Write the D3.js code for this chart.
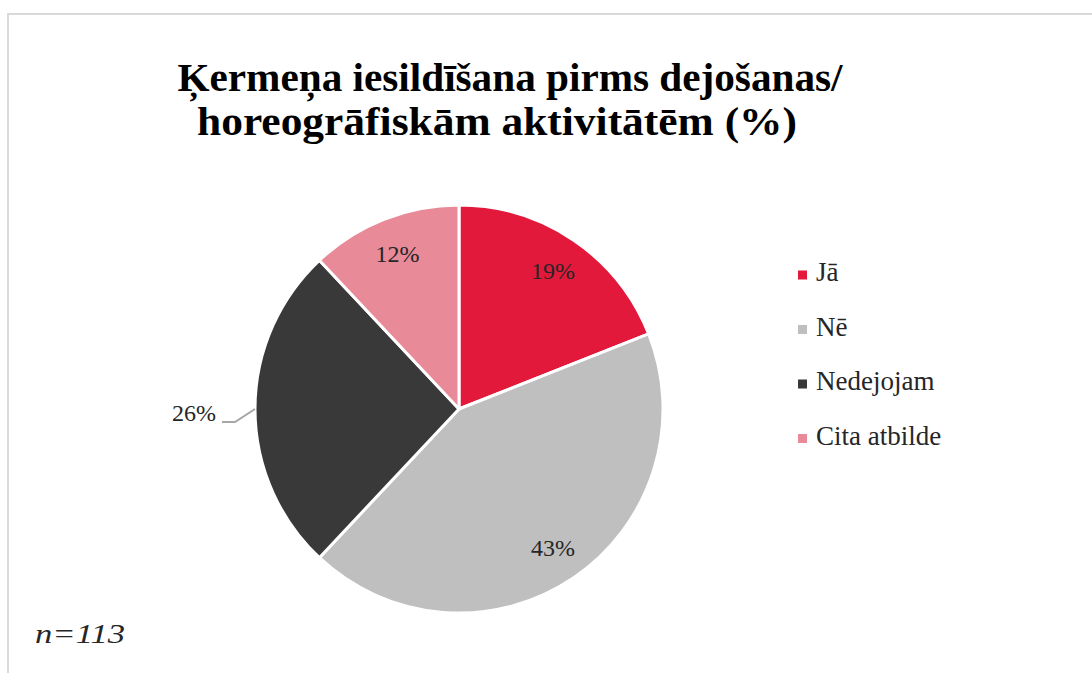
<!DOCTYPE html>
<html><head><meta charset="utf-8">
<script src="https://cdn.jsdelivr.net/npm/d3@7"></script>
<style>html,body{margin:0;padding:0;background:#fff;}svg{display:block;}</style>
</head><body>
<script>
const categories = ["Jā", "Nē", "Nedejojam", "Cita atbilde"];
const values = [19, 43, 26, 12];
const colors = ["#e2193b", "#bfbfbf", "#3a3939", "#e98a98"];
const labels = ["19%", "43%", "26%", "12%"];
const titleLines = ["Ķermeņa iesildīšana pirms dejošanas/", "horeogrāfiskām  aktivitātēm  (%)"];
const note = "n=113";

const W = 1092, H = 673;
const svg = d3.select("body").append("svg").attr("width", W).attr("height", H);
svg.append("rect").attr("x", 8).attr("y", 14).attr("width", W).attr("height", H)
  .attr("fill", "#fff").attr("stroke", "#d9d9d9").attr("stroke-width", 2);

const serif = "'Liberation Serif','Times New Roman',serif";
const titleW = [665, 600];
const titleX = [510, 497];
svg.selectAll("text.title").data(titleLines).join("text").attr("class","title")
  .attr("x", (d,i) => titleX[i]).attr("y", (d,i) => 91 + i*44)
  .attr("text-anchor","middle").attr("font-family", serif).attr("font-weight","bold")
  .attr("font-size", 40).attr("fill","#000")
  .attr("textLength", (d,i) => titleW[i]).attr("lengthAdjust","spacingAndGlyphs")
  .text(d => d);

const cx = 459, cy = 409, R = 204;
const pie = d3.pie().sort(null).value(d => d)(values);
const arc = d3.arc().innerRadius(0).outerRadius(R);
const g = svg.append("g").attr("transform", `translate(${cx},${cy})`);
g.selectAll("path").data(pie).join("path")
  .attr("d", arc).attr("fill", (d,i) => colors[i])
  .attr("stroke","#fff").attr("stroke-width", 3).attr("stroke-linejoin","round");

// labels
const labelArc = d3.arc().innerRadius(R*0.82).outerRadius(R*0.82);
pie.forEach((d,i) => {
  let [x,y] = labelArc.centroid(d);
  if (i === 2) {
    const p0 = d3.arc().innerRadius(R).outerRadius(R).centroid(d);
    g.append("polyline").attr("points", `${-237},${13} ${-224},${13} ${p0[0]},${p0[1]}`)
      .attr("fill","none").attr("stroke","#a6a6a6").attr("stroke-width",2);
    g.append("text").attr("x", -243).attr("y", 6).attr("text-anchor","end")
      .attr("font-family", serif).attr("font-size", 24).attr("fill","#262626").attr("dominant-baseline","middle")
      .text(labels[i]);
  } else {
    g.append("text").attr("x", x).attr("y", y + 3).attr("text-anchor","middle")
      .attr("dominant-baseline","middle").attr("font-family", serif).attr("font-size", 24)
      .attr("fill","#262626").text(labels[i]);
  }
});

// legend
const lg = svg.append("g");
categories.forEach((c,i) => {
  const y = 275 + i*54.5;
  lg.append("rect").attr("x", 798).attr("y", y-4.5).attr("width", 9).attr("height", 9).attr("fill", colors[i]);
  lg.append("text").attr("x", 816).attr("y", y).attr("dominant-baseline","middle")
    .attr("font-family", serif).attr("font-size", 27).attr("fill","#262626").text(c);
});

svg.append("text").attr("x", 35).attr("y", 643).attr("font-family", serif).attr("font-style","italic")
  .attr("font-size", 28).attr("fill","#262626")
  .attr("textLength", 90).attr("lengthAdjust","spacingAndGlyphs").text(note);
</script>
</body></html>
